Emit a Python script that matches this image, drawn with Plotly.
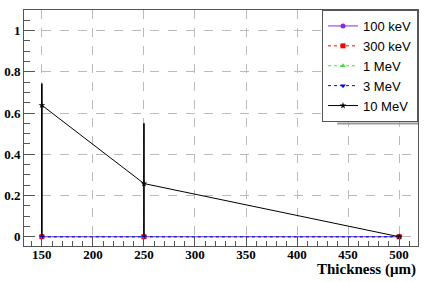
import plotly.graph_objects as go

thickness = [150, 250, 500]
series_names = ["100 keV", "300 keV", "1 MeV", "3 MeV", "10 MeV"]
eff_100keV = [0.0, 0.0, 0.0]
eff_300keV = [0.0, 0.0, 0.0]
eff_1MeV = [0.0, 0.0, 0.0]
eff_3MeV = [0.0, 0.0, 0.0]
eff_10MeV = [0.638, 0.258, 0.0]
err_up_10MeV = [0.105, 0.292, 0.0]
err_dn_10MeV = [0.638, 0.258, 0.0]

x_ticks = [150, 200, 250, 300, 350, 400, 450, 500]
x_ticklabels = ["150", "200", "250", "300", "350", "400", "450", "500"]
y_ticks = [0, 0.2, 0.4, 0.6, 0.8, 1]
y_ticklabels = ["0", "0.2", "0.4", "0.6", "0.8", "1"]

styles = [
    dict(color="#8a2be2", dash="solid", symbol="circle"),
    dict(color="#ff0000", dash="dot", symbol="square"),
    dict(color="#44dd44", dash="dot", symbol="triangle-up"),
    dict(color="#0000ff", dash="dot", symbol="triangle-down"),
    dict(color="#000000", dash="solid", symbol="star"),
]
values = [eff_100keV, eff_300keV, eff_1MeV, eff_3MeV, eff_10MeV]

fig = go.Figure()
for name, vals, st in zip(series_names, values, styles):
    tr = go.Scatter(
        x=thickness, y=vals, name=name, mode="lines+markers",
        line=dict(color=st["color"], width=1, dash=st["dash"]),
        marker=dict(color=st["color"], symbol=st["symbol"], size=5),
    )
    if name == "10 MeV":
        tr.error_y = dict(type="data", symmetric=False, array=err_up_10MeV,
                          arrayminus=err_dn_10MeV, color="black", thickness=1.7, width=0)
    fig.add_trace(tr)

tick_font = dict(family="Liberation Serif, serif", size=13, color="black")
fig.update_layout(
    width=436, height=282,
    margin=dict(l=24, r=18, t=10, b=36, autoexpand=False),
    paper_bgcolor="white", plot_bgcolor="white",
    showlegend=True,
    legend=dict(x=1, xanchor="right", y=1, yanchor="top",
                bgcolor="white", bordercolor="#555555", borderwidth=1,
                font=dict(family="Liberation Sans, sans-serif", size=13, color="black"),
                itemwidth=30, tracegroupgap=0),
    xaxis=dict(range=[132.5, 518.5], tickvals=x_ticks,
               ticktext=["<b>%s</b>" % t for t in x_ticklabels],
               ticks="inside", ticklen=9, automargin=False, ticklabelstandoff=-4,
               tickcolor="#555555", showline=True, linecolor="#555555", mirror=True,
               showgrid=True, gridcolor="#bbbbbb", griddash="dash", zeroline=False,
               minor=dict(dtick=10, ticks="inside", ticklen=5, tickcolor="#555555", showgrid=False),
               tickfont=tick_font),
    yaxis=dict(range=[-0.045, 1.1], tickvals=y_ticks,
               ticktext=["<b>%s</b>" % t for t in y_ticklabels],
               ticks="inside", ticklen=11, automargin=False,
               tickcolor="#555555", showline=True, linecolor="#555555", mirror=True,
               showgrid=True, gridcolor="#bbbbbb", griddash="dash", zeroline=False,
               minor=dict(dtick=0.05, ticks="inside", ticklen=6, tickcolor="#555555", showgrid=False),
               tickfont=tick_font),
)
fig.add_shape(type="line", xref="paper", yref="paper", x0=0.795, x1=1.0, y0=0.519, y1=0.519,
              line=dict(color="#999999", width=2))
fig.add_annotation(x=1, xref="paper", xanchor="right", y=-0.098, yref="paper", yanchor="middle",
                   text="<b>Thickness (μm)</b>", showarrow=False,
                   font=dict(family="Liberation Serif, serif", size=15, color="black"))
fig.write_html("out.html", config={"displayModeBar": False},
               post_script="document.body.style.margin='0';")
